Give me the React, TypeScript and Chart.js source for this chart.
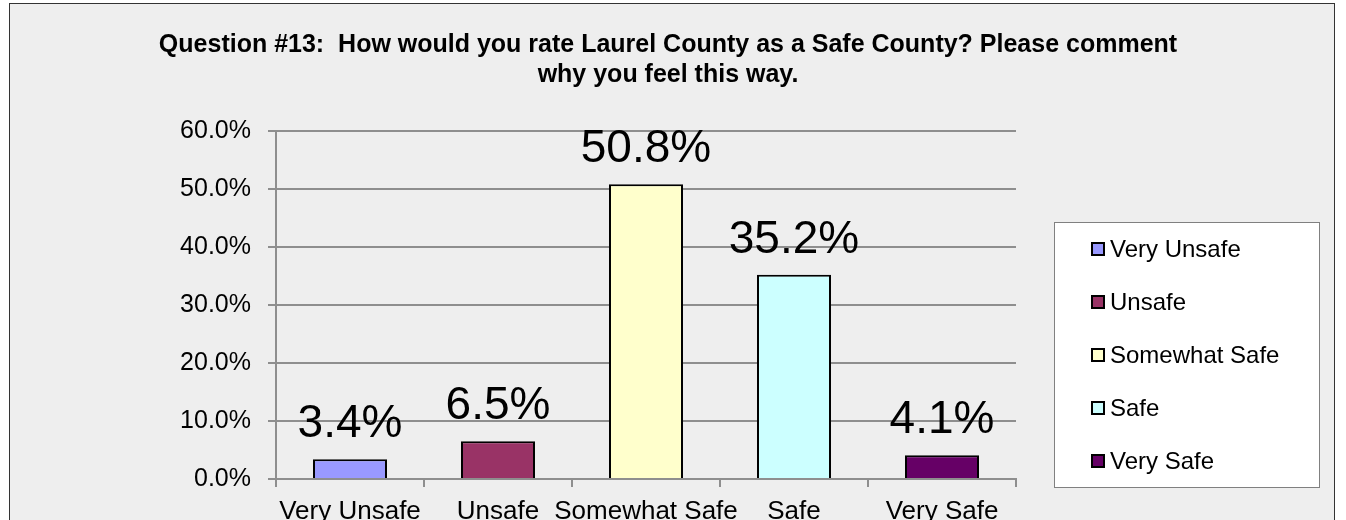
import React, { useEffect, useRef } from 'react';
import { Chart, registerables } from 'chart.js';

Chart.register(...registerables);

const categories = ['Very Unsafe', 'Unsafe', 'Somewhat Safe', 'Safe', 'Very Safe'];
const values = [3.4, 6.5, 50.8, 35.2, 4.1];
const barColors = ['#9999FF', '#993366', '#FFFFCC', '#CCFFFF', '#660066'];
const titleLines = [
  'Question #13:  How would you rate Laurel County as a Safe County? Please comment',
  'why you feel this way.',
];
const yMin = 0;
const yMax = 60;
const yStep = 10;

const FONT = "'Liberation Sans', Arial, Helvetica, sans-serif";
const GRID = '#8e8e8e';

const framePlugin = {
  id: 'frame',
  beforeDraw(chart: any) {
    const { ctx, width, height } = chart;
    ctx.save();
    ctx.fillStyle = '#ffffff';
    ctx.fillRect(0, 0, width, height);
    ctx.fillStyle = '#eeeeee';
    ctx.fillRect(9, 3, 1326, height + 20);
    ctx.strokeStyle = '#333333';
    ctx.lineWidth = 1;
    ctx.strokeRect(9.5, 3.5, 1325, height + 20);
    ctx.restore();
  },
};

const titlePlugin = {
  id: 'customTitle',
  afterDraw(chart: any) {
    const { ctx } = chart;
    ctx.save();
    ctx.fillStyle = '#000';
    ctx.font = `bold 25px ${FONT}`;
    ctx.textAlign = 'center';
    ctx.textBaseline = 'alphabetic';
    ctx.fillText(titleLines[0], 668, 52);
    ctx.fillText(titleLines[1], 668, 82);
    ctx.restore();
  },
};

const dataLabelPlugin = {
  id: 'dataLabels',
  afterDatasetsDraw(chart: any) {
    const { ctx } = chart;
    const meta = chart.getDatasetMeta(0);
    ctx.save();
    ctx.fillStyle = '#000';
    ctx.font = `46px ${FONT}`;
    ctx.textAlign = 'center';
    ctx.textBaseline = 'alphabetic';
    meta.data.forEach((bar: any, i: number) => {
      ctx.fillText(values[i].toFixed(1) + '%', bar.x, bar.y - 22);
    });
    ctx.restore();
  },
};

const legendPlugin = {
  id: 'customLegend',
  afterDraw(chart: any) {
    const { ctx } = chart;
    ctx.save();
    ctx.fillStyle = '#ffffff';
    ctx.fillRect(1054, 222, 265, 265);
    ctx.strokeStyle = '#808080';
    ctx.lineWidth = 1;
    ctx.strokeRect(1054.5, 222.5, 265, 265);
    ctx.font = `24px ${FONT}`;
    ctx.textAlign = 'left';
    ctx.textBaseline = 'middle';
    categories.forEach((c, i) => {
      const cy = 249 + i * 53;
      ctx.fillStyle = barColors[i];
      ctx.fillRect(1091, cy - 7, 14, 14);
      ctx.strokeStyle = '#000';
      ctx.lineWidth = 2;
      ctx.strokeRect(1092, cy - 6, 12, 12);
      ctx.fillStyle = '#000';
      ctx.fillText(c, 1110, cy + 1);
    });
    ctx.restore();
  },
};

export default function App() {
  const ref = useRef<HTMLCanvasElement | null>(null);
  useEffect(() => {
    if (!ref.current) return;
    const chart = new Chart(ref.current, {
      type: 'bar',
      data: {
        labels: categories,
        datasets: [
          {
            data: values,
            backgroundColor: barColors,
            borderColor: '#000',
            borderWidth: 2,
            categoryPercentage: 1,
            barPercentage: 0.5,
          },
        ],
      },
      options: {
        responsive: false,
        animation: false,
        devicePixelRatio: 1,
        layout: { padding: { top: 131, right: 330, bottom: 0, left: 0 } },
        plugins: {
          legend: { display: false },
          title: { display: false },
          tooltip: { enabled: false },
        },
        scales: {
          x: {
            afterFit(scale: any) {
              scale.height = 41;
            },
            grid: {
              drawOnChartArea: false,
              drawTicks: true,
              tickLength: 8,
              color: GRID,
              lineWidth: 2,
            },
            border: { display: true, color: GRID, width: 2 },
            ticks: {
              color: '#000',
              font: { family: FONT, size: 26 },
              padding: 9,
              maxRotation: 0,
              autoSkip: false,
            },
          },
          y: {
            min: yMin,
            max: yMax,
            afterFit(scale: any) {
              scale.width = 276;
            },
            grid: {
              color: GRID,
              lineWidth: 2,
              tickLength: 8,
              drawTicks: true,
            },
            border: { display: true, color: GRID, width: 2 },
            ticks: {
              stepSize: yStep,
              color: '#000',
              font: { family: FONT, size: 25 },
              padding: 17,
              callback: (v: any) => Number(v).toFixed(1) + '%',
            },
          },
        },
      },
      plugins: [framePlugin, dataLabelPlugin, legendPlugin, titlePlugin],
    });
    return () => chart.destroy();
  }, []);
  return (
    <div style={{ position: 'fixed', left: 0, top: 0, width: 1346, height: 520, overflow: 'hidden', background: '#fff' }}>
      <canvas ref={ref} width={1346} height={520} style={{ display: 'block' }} />
    </div>
  );
}
